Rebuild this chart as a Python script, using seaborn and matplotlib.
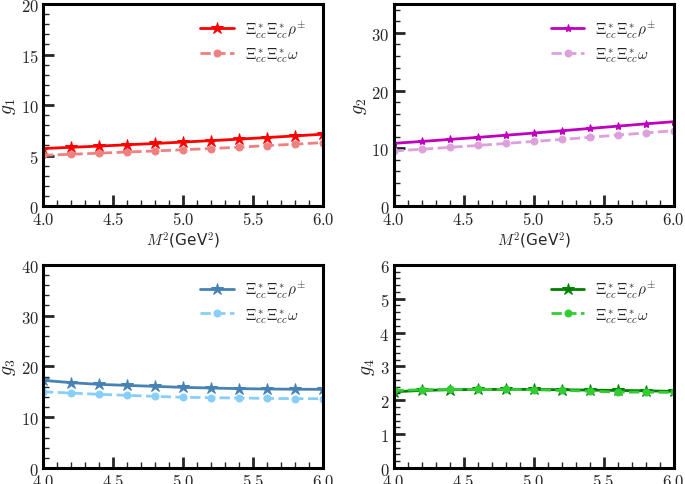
import numpy as np
import pandas as pd
import matplotlib
matplotlib.use("Agg")
import matplotlib.pyplot as plt
import seaborn as sns
from matplotlib.ticker import MultipleLocator, FuncFormatter

M2 = [4.0, 4.2, 4.4, 4.6, 4.8, 5.0, 5.2, 5.4, 5.6, 5.8, 6.0]

g1_rho = [5.70, 5.82, 5.94, 6.07, 6.20, 6.34, 6.48, 6.63, 6.79, 6.95, 7.12]
g1_omega = [5.03, 5.13, 5.24, 5.35, 5.46, 5.58, 5.70, 5.83, 5.99, 6.13, 6.29]
g2_rho = [10.87, 11.20, 11.55, 11.90, 12.27, 12.65, 13.05, 13.45, 13.85, 14.25, 14.62]
g2_omega = [9.54, 9.85, 10.18, 10.50, 10.85, 11.20, 11.55, 11.92, 12.30, 12.68, 13.06]
g3_rho = [17.25, 16.80, 16.46, 16.26, 16.07, 15.87, 15.74, 15.62, 15.55, 15.50, 15.48]
g3_omega = [15.00, 14.75, 14.50, 14.30, 14.10, 13.92, 13.84, 13.77, 13.70, 13.65, 13.64]
g4_rho = [2.25, 2.29, 2.31, 2.32, 2.32, 2.32, 2.31, 2.30, 2.29, 2.28, 2.26]
g4_omega = [2.29, 2.31, 2.32, 2.32, 2.32, 2.31, 2.29, 2.27, 2.24, 2.24, 2.23]

label_rho = r"$\Xi^*_{cc}\Xi^*_{cc}\rho^{\pm}$"
label_omega = r"$\Xi^*_{cc}\Xi^*_{cc}\omega$"

sns.set_style("ticks")
plt.rcParams["mathtext.fontset"] = "cm"
plt.rcParams["font.family"] = ["DejaVu Sans"]

fig = plt.figure(figsize=(6.85, 4.85), dpi=100)

panels = [
    dict(rho=g1_rho, omega=g1_omega, c1="#ff0000", c2="#f08080", ylab=r"$g_1$",
         ylim=(0, 20), major=5, minor=1, ms=9, pos=[0.0628, 0.573, 0.409, 0.4165], xlabel=True),
    dict(rho=g2_rho, omega=g2_omega, c1="#bf00bf", c2="#dda0dd", ylab=r"$g_2$",
         ylim=(0, 35), major=10, minor=2, ms=6, pos=[0.5745, 0.573, 0.409, 0.4165], xlabel=True),
    dict(rho=g3_rho, omega=g3_omega, c1="#4682b4", c2="#87cefa", ylab=r"$g_3$",
         ylim=(0, 40), major=10, minor=2, ms=9, pos=[0.0628, 0.033, 0.409, 0.419], xlabel=False),
    dict(rho=g4_rho, omega=g4_omega, c1="#008000", c2="#32cd32", ylab=r"$g_4$",
         ylim=(0, 6), major=1, minor=0.2, ms=9, pos=[0.5745, 0.033, 0.409, 0.419], xlabel=False),
]

fmt1 = FuncFormatter(lambda v, p: r"$%.1f$" % v)
fmt0 = FuncFormatter(lambda v, p: r"$%d$" % round(v))

for pnl in panels:
    ax = fig.add_axes(pnl["pos"])
    df = pd.DataFrame({"M2": M2, "rho": pnl["rho"], "omega": pnl["omega"]})
    sns.lineplot(data=df, x="M2", y="rho", ax=ax, color=pnl["c1"], marker="*",
                 markersize=pnl["ms"], markeredgecolor=pnl["c1"], linewidth=2.0,
                 label=label_rho)
    sns.lineplot(data=df, x="M2", y="omega", ax=ax, color=pnl["c2"], marker="o",
                 markersize=5, markeredgecolor=pnl["c2"], linewidth=2.0,
                 linestyle="--", label=label_omega)
    ax.set_xlim(4.0, 6.0)
    ax.set_ylim(*pnl["ylim"])
    ax.xaxis.set_major_locator(MultipleLocator(0.5))
    ax.xaxis.set_minor_locator(MultipleLocator(0.1))
    ax.yaxis.set_major_locator(MultipleLocator(pnl["major"]))
    ax.yaxis.set_minor_locator(MultipleLocator(pnl["minor"]))
    ax.xaxis.set_major_formatter(fmt1)
    ax.yaxis.set_major_formatter(fmt0)
    ax.tick_params(which="major", direction="in", length=8, width=2.0,
                   labelsize=12, top=False, right=False, pad=3)
    ax.tick_params(which="minor", direction="in", length=4, width=1.0,
                   top=False, right=False)
    for s in ax.spines.values():
        s.set_linewidth(2.2)
        s.set_color("black")
    ax.set_ylabel(pnl["ylab"], fontsize=14, labelpad=2)
    if pnl["xlabel"]:
        ax.set_xlabel(r"$M^2$(GeV$^2$)", fontsize=11, labelpad=1)
    else:
        ax.set_xlabel("")
    ax.legend(loc="upper right", bbox_to_anchor=(0.975, 0.985), frameon=False,
              fontsize=11, handlelength=2.2, handletextpad=0.7,
              borderaxespad=0.3, labelspacing=0.35)

fig.savefig("out.png", dpi=100)
